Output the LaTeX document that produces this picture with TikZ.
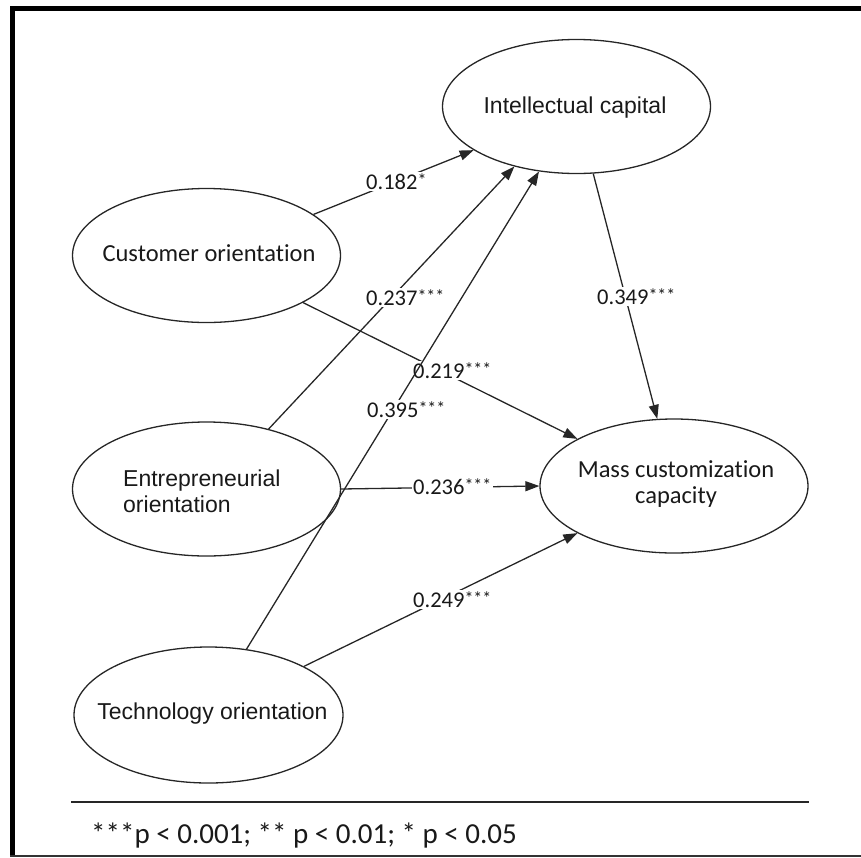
\documentclass[tikz,border=0pt]{standalone}
\usepackage{fontspec}
\setmainfont{Carlito}[Ligatures={NoCommon,NoContextual}]
\newfontfamily\arialf{Liberation Sans}
\usetikzlibrary{shapes.geometric,arrows.meta}
\newcommand\mystars[1]{{\fontsize{18}{18}\selectfont\raisebox{2.5pt}{#1}}}
\begin{document}
\begin{tikzpicture}[x=1pt,y=-1pt,
  ell/.style={draw=black!85, line width=1.3pt, ellipse, minimum width=268pt, minimum height=134pt, inner sep=0pt},
  cal/.style={font=\fontsize{24.5}{26}\selectfont, text=black!90, inner sep=0pt},
  ari/.style={font=\arialf\fontsize{23}{26}\selectfont, text=black!90, inner sep=0pt},
  num/.style={font=\fontsize{22.5}{24}\selectfont, fill=white, inner sep=1.5pt, text=black!90, anchor=base west},
  conn/.style={draw=black!85, line width=1.3pt, -{Triangle[length=14pt,width=10pt]}},
  rulel/.style={draw=black!85, line width=1.5pt}
]
\useasboundingbox (0,0) rectangle (861,857);
% frame
\fill[black] (10,6) rectangle (15,857);
\fill[black] (10,6) rectangle (861,11);
\coordinate (bl) at (10,856);
\coordinate (br) at (861,856);
\draw[line width=1.3pt, black!80] (bl) -- (br);

% ellipses
\node[ell] (ic) at (576.5,106.5) {};
\node[ell] (co) at (206.5,255.5) {};
\node[ell] (eo) at (206.5,489) {};
\node[ell, minimum width=269pt, minimum height=136pt] (to) at (208.5,715) {};
\node[ell] (mcc) at (674,486) {};

% texts
\node[ari, anchor=base] (ict) at (575,113) {Intellectual capital};
\node[cal, anchor=base] (cot) at (209,261) {Customer orientation};
\node[ari, anchor=base west] (eot1) at (123,486) {Entrepreneurial};
\node[ari, anchor=base west] (eot2) at (123,512) {orientation};
\node[ari, anchor=base] (tot) at (212.5,719) {Technology orientation};
\node[cal, anchor=base] (mcct1) at (676,477) {Mass customization};
\node[cal, anchor=base] (mcct2) at (676,503) {capacity};

% connectors
\draw[conn] (co.21) -- (ic.203);
\draw[conn] (eo.44) -- (ic.224);
\draw[conn] (co.-26) -- (mcc.154);
\draw[conn] (eo.east) -- (mcc.west);
\draw[conn] (to.27) -- (mcc.206);
\draw[conn] (ic.-76) -- (mcc.104);

\node[num] (l1) at (364.5,189) {0.182\mystars{*}};
\node[num] (l2) at (364.5,305) {0.237\mystars{***}};
\node[num] (l3) at (411.5,378) {0.219\mystars{***}};
\node[num] (l5) at (411.5,494) {0.236\mystars{***}};
\node[num] (l6) at (411.5,607) {0.249\mystars{***}};
\node[num] (l7) at (595.5,304) {0.349\mystars{***}};

\draw[conn] (to.60) -- (ic.240);
\node[num] (l4) at (365.5,417) {0.395\mystars{***}};

% footnote
\coordinate (rl) at (71,802);
\coordinate (rr) at (809,802);
\draw[rulel] (rl) -- (rr);
\node[font=\fontsize{29}{30}\selectfont, text=black!90, anchor=base west, inner sep=0pt] (fn) at (91,843) {***p < 0.001; ** p < 0.01; * p < 0.05};
\end{tikzpicture}
\end{document}
